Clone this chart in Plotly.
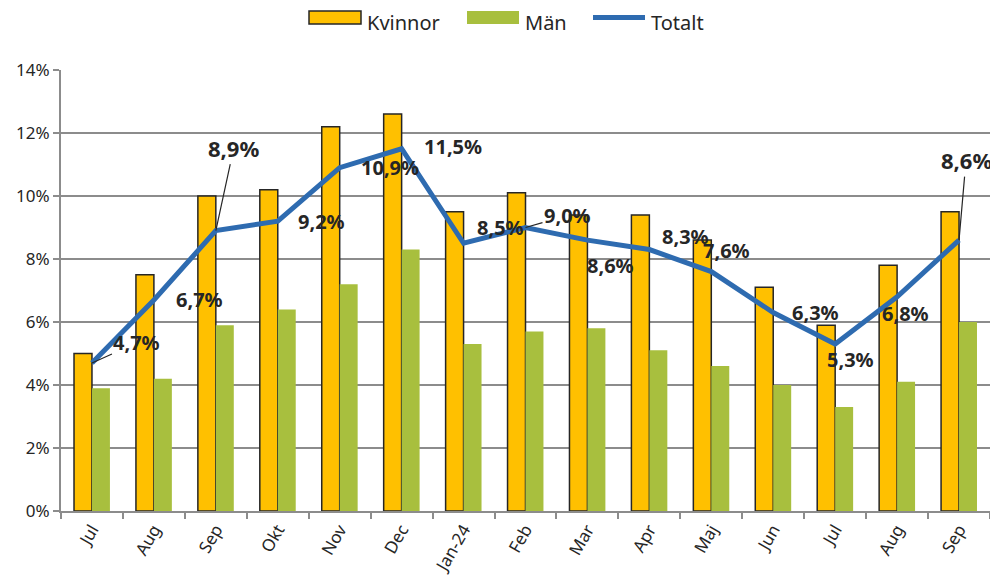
import plotly.graph_objects as go

months = ["Jul", "Aug", "Sep", "Okt", "Nov", "Dec", "Jan-24", "Feb", "Mar", "Apr", "Maj", "Jun", "Jul", "Aug", "Sep"]
kvinnor = [5.0, 7.5, 10.0, 10.2, 12.2, 12.6, 9.5, 10.1, 9.4, 9.4, 8.6, 7.1, 5.9, 7.8, 9.5]
man = [3.9, 4.2, 5.9, 6.4, 7.2, 8.3, 5.3, 5.7, 5.8, 5.1, 4.6, 4.0, 3.3, 4.1, 6.0]
totalt = [4.7, 6.7, 8.9, 9.2, 10.9, 11.5, 8.5, 9.0, 8.6, 8.3, 7.6, 6.3, 5.3, 6.8, 8.6]
y_ticks = [0, 2, 4, 6, 8, 10, 12, 14]
series_names = ["Kvinnor", "Män", "Totalt"]

C_K, C_M, C_T, C_TXT, C_GRID = "#FFC000", "#A8BF3E", "#2E6BB0", "#262626", "#8C8C8C"

xs = list(range(len(months)))

# label placement styling: (xshift px, yshift px, leader line?)
label_style = [
    (45, 20, True), (46, 0, False), (18, 83, True), (44, 0, False), (50, 0, False),
    (51, 2, False), (37, 16, False), (42, 12, True), (23, -25, False), (36, 13, False),
    (15, 21, False), (42, 0, False), (15, -15, False), (8, -17, False), (7, 80, True),
]

fig = go.Figure()
fig.add_trace(go.Bar(x=xs, y=kvinnor, name=series_names[0], marker=dict(color=C_K, line=dict(color=C_TXT, width=1.5))))
fig.add_trace(go.Bar(x=xs, y=man, name=series_names[1], marker=dict(color=C_M, line=dict(width=0))))
fig.add_trace(go.Scatter(x=xs, y=totalt, name=series_names[2], mode="lines", line=dict(color=C_T, width=5)))

for i, v in enumerate(totalt):
    dx, dy, leader = label_style[i]
    txt = f"{v:.1f}%".replace(".", ",")
    if leader:
        big = dy > 50
        fig.add_annotation(x=i, y=v, text=f"<b>{txt}</b>", showarrow=True, arrowhead=0,
                           arrowwidth=1.2, arrowcolor=C_TXT, ax=dx, ay=-dy,
                           font=dict(size=22 if big else 20, color=C_TXT, family="Noto Sans"))
    else:
        fig.add_annotation(x=i, y=v, text=f"<b>{txt}</b>", showarrow=False,
                           xshift=dx, yshift=dy,
                           font=dict(size=20, color=C_TXT, family="Noto Sans"))

# page body has an 8px margin; figure geometry is given in page pixels and offset by it
OFF = 8
L, T, W, H = 61, 70, 929, 441
FW, FH = 998 - OFF, 580 - OFF
def px(xp):
    return (xp - L) / W
def py(yp):
    return (T + H - yp) / H

fig.add_shape(type="rect", xref="paper", yref="paper", x0=px(309), x1=px(361), y0=py(24), y1=py(11),
              fillcolor=C_K, line=dict(color=C_TXT, width=1.5))
fig.add_shape(type="rect", xref="paper", yref="paper", x0=px(467), x1=px(519), y0=py(24), y1=py(11),
              fillcolor=C_M, line=dict(width=0))
fig.add_shape(type="line", xref="paper", yref="paper", x0=px(593), x1=px(645), y0=py(17.5), y1=py(17.5),
              line=dict(color=C_T, width=5))
for name, xl in zip(series_names, [366, 524, 650]):
    fig.add_annotation(xref="paper", yref="paper", x=px(xl), y=py(OFF + 0.5), xanchor="left", yanchor="top",
                       borderpad=0, text=name, showarrow=False,
                       font=dict(size=20, color=C_TXT, family="Noto Sans"))

fig.update_layout(
    width=FW, height=FH,
    margin=dict(l=L - OFF, r=FW - (L - OFF) - W, t=T - OFF, b=FH - (T - OFF) - H),
    paper_bgcolor="white", plot_bgcolor="white",
    barmode="group", bargap=0.42, bargroupgap=0,
    font=dict(family="Noto Sans", color=C_TXT),
    showlegend=False,
)
fig.update_xaxes(
    automargin=False,
    range=[-0.5, len(months) - 0.5], tickmode="array", tickvals=xs, ticktext=months,
    tickangle=-60, tickfont=dict(size=17, color=C_TXT), ticks="",
    showline=True, linecolor=C_GRID, linewidth=2, showgrid=False, zeroline=False,
    minor=dict(tickmode="linear", tick0=-0.5, dtick=1, ticks="outside", ticklen=6, tickcolor=C_GRID, tickwidth=1.5),
)
fig.update_yaxes(
    automargin=False,
    range=[0, 14], tickmode="array", tickvals=y_ticks, ticktext=[f"{t}%" for t in y_ticks],
    tickfont=dict(size=17, color=C_TXT), ticks="outside", ticklen=6, tickcolor=C_GRID, tickwidth=1.5,
    showline=True, linecolor=C_GRID, linewidth=2, showgrid=True, gridcolor=C_GRID, gridwidth=1.5,
    zeroline=False,
)
fig.write_html("out.html")
